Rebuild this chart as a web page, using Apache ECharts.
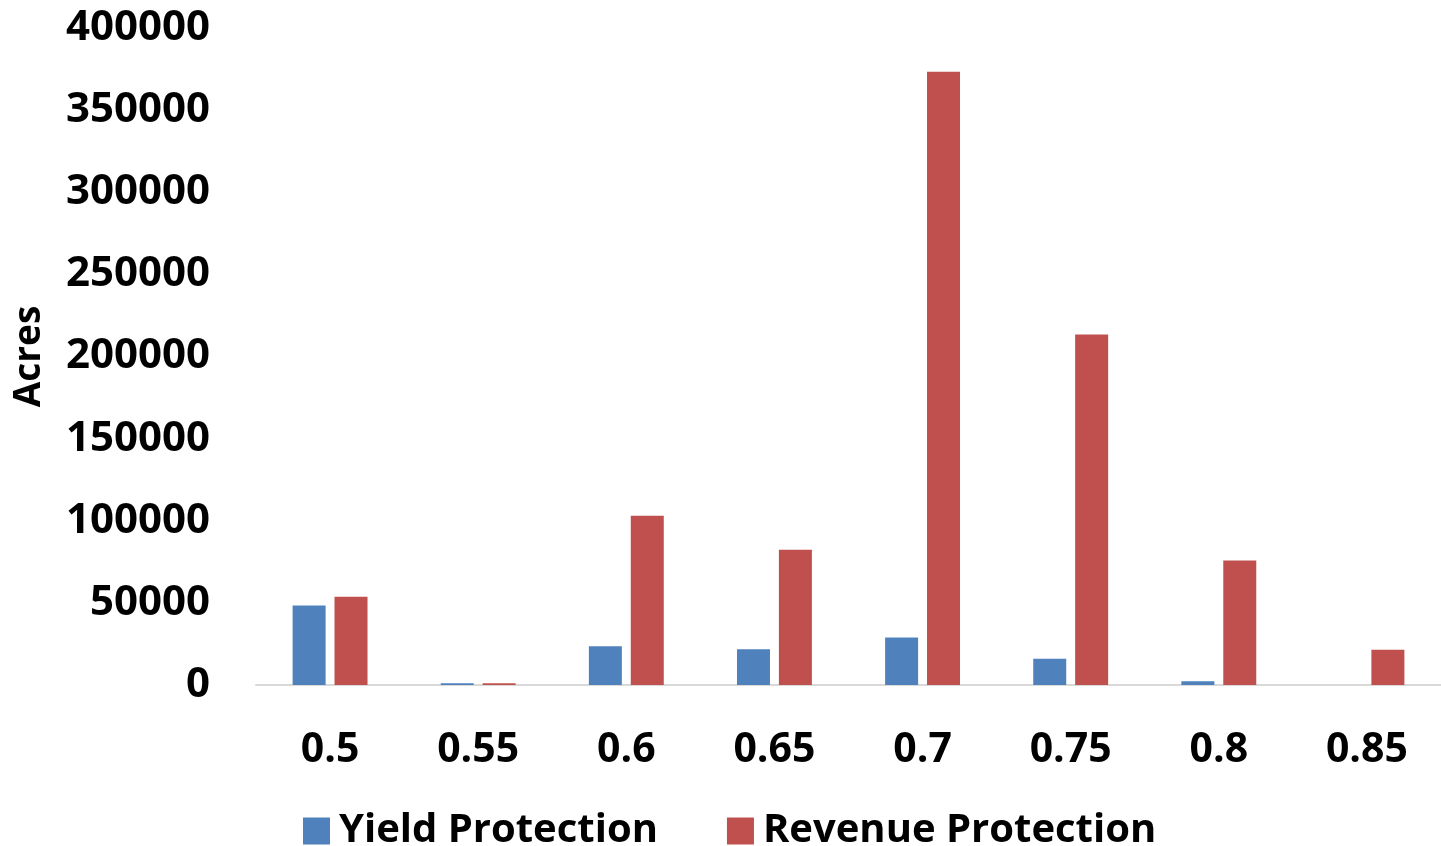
<!DOCTYPE html>
<html>
<head>
<meta charset="utf-8">
<script src="https://cdn.jsdelivr.net/npm/echarts@6/dist/echarts.min.js"></script>
<style>
  html, body { margin: 0; padding: 0; background: #fff; }
  #chart { width: 1441px; height: 846px; }
</style>
</head>
<body>
<div id="chart"></div>
<script>
// coverage levels
var categories = ['0.5', '0.55', '0.6', '0.65', '0.7', '0.75', '0.8', '0.85'];
var yieldProtection = [48400, 1000, 23600, 21800, 28900, 16000, 2300, 0];
var revenueProtection = [53700, 1000, 103000, 82300, 373300, 213400, 75800, 21400];
var yTicks = [0, 50000, 100000, 150000, 200000, 250000, 300000, 350000, 400000];

var font = '"Open Sans", Lato, sans-serif';

var chart = echarts.init(document.getElementById('chart'));
var option = {
  color: ['#4f81bd', '#c0504d'],
  textStyle: { fontFamily: font },
  grid: {
    left: 256,
    right: 0,
    top: 28,
    bottom: 161,
    containLabel: false
  },
  legend: {
    bottom: -10,
    left: 298,
    itemWidth: 27,
    itemHeight: 27,
    itemGap: 69,
    icon: 'rect',
    textStyle: {
      fontSize: 40,
      fontWeight: 'bold',
      color: '#000',
      fontFamily: font,
      padding: [0, 0, 0, 4]
    },
    data: ['Yield Protection', 'Revenue Protection']
  },
  xAxis: {
    type: 'category',
    data: categories,
    axisTick: { show: false },
    axisLine: { lineStyle: { color: '#d9d9d9', width: 2 } },
    axisLabel: {
      color: '#000',
      fontSize: 41,
      fontWeight: 'bold',
      margin: 45
    }
  },
  yAxis: {
    type: 'value',
    min: yTicks[0],
    max: yTicks[yTicks.length - 1],
    interval: 50000,
    name: 'Acres',
    nameLocation: 'middle',
    nameGap: 208,
    nameTextStyle: {
      color: '#000',
      fontSize: 37,
      fontWeight: 'bold'
    },
    splitLine: { show: false },
    axisLine: { show: false },
    axisTick: { show: false },
    axisLabel: {
      color: '#000',
      fontSize: 42,
      fontWeight: 'bold',
      margin: 46,
      formatter: function (v) { return String(v); }
    }
  },
  series: [
    {
      name: 'Yield Protection',
      type: 'bar',
      data: yieldProtection,
      barWidth: 33,
      barGap: '27%'
    },
    {
      name: 'Revenue Protection',
      type: 'bar',
      data: revenueProtection,
      barWidth: 33,
      barGap: '27%'
    }
  ]
};
chart.setOption(option);
</script>
</body>
</html>
